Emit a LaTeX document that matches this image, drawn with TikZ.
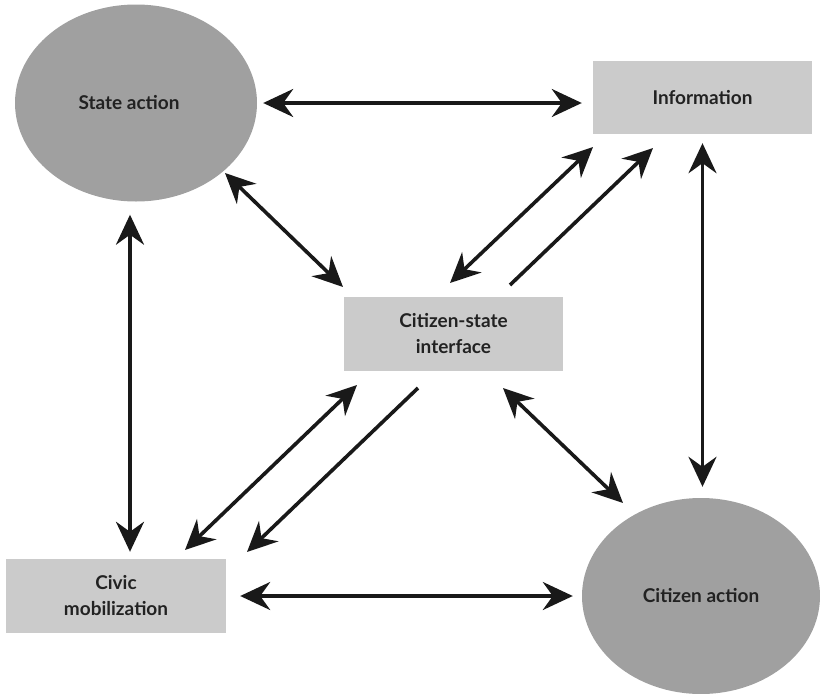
\documentclass[tikz,border=0pt]{standalone}
\usepackage{fontspec}
\setmainfont{Lato}
\usetikzlibrary{shapes.geometric,arrows.meta}
\definecolor{ovalgray}{HTML}{A0A0A0}
\definecolor{boxgray}{HTML}{CBCBCB}
\definecolor{txt}{HTML}{222222}
\tikzset{
  oval/.style={ellipse,fill=ovalgray,draw=none,inner sep=0pt,text=txt,font=\bfseries\fontsize{19}{26}\selectfont},
  box/.style={rectangle,fill=boxgray,draw=none,inner sep=0pt,align=center,text=txt,font=\bfseries\fontsize{19}{26}\selectfont},
  link/.style={line width=3.6pt,color=black!90},
  headtip/.tip={Stealth[length=30pt,width=28pt,inset=10pt]},
  dbl/.style={link,headtip-headtip},
  sgl/.style={link,-headtip},
}
\begin{document}
\begin{tikzpicture}[x=1pt,y=-1pt]
\useasboundingbox (0,0) rectangle (820,694);
\node[oval,minimum width=242pt,minimum height=197pt] (sa) at (136,103) {\hspace*{-14pt}State action};
\node[box,minimum width=219pt,minimum height=73pt] (info) at (702.5,97.5) {Information};
\node[box,minimum width=219pt,minimum height=74pt] (csi) at (453.5,334) {Citizen-state\\interface};
\node[box,minimum width=220pt,minimum height=74pt] (civ) at (116,596) {Civic\\mobilization};
\node[oval,minimum width=238pt,minimum height=196pt] (ca) at (701,596) {Citizen action};
% diagonal end points
\coordinate (sa-d) at (225,173);
\coordinate (csi-sa) at (343,287);
\coordinate (info-d1) at (593,147);
\coordinate (csi-i1) at (450,283);
\coordinate (csi-i2) at (510,285);
\coordinate (info-d2) at (653,148);
\coordinate (csi-c1) at (357,385);
\coordinate (civ-d1) at (185,550);
\coordinate (csi-c2) at (418,388);
\coordinate (civ-d2) at (247,552);
\coordinate (csi-ca) at (503,388);
\coordinate (ca-d) at (623,503);
% straight connectors
\draw[dbl,shorten <=6pt,shorten >=11pt] (sa.east) -- (sa.east -| info.west);
\draw[dbl,shorten <=14pt,shorten >=9pt] (civ.east) -- (ca.west);
\draw[dbl,shorten <=13pt,shorten >=7pt] ([xshift=-6pt]sa.south) -- ([xshift=-6pt]sa.south |- civ.north);
\draw[dbl,shorten <=9pt,shorten >=11pt] (info.south) -- (info.south |- ca.north);
% diagonal connectors
\draw[dbl] (sa-d) -- (csi-sa);
\draw[dbl] (info-d1) -- (csi-i1);
\draw[sgl] (csi-i2) -- (info-d2);
\draw[dbl] (csi-c1) -- (civ-d1);
\draw[sgl] (csi-c2) -- (civ-d2);
\draw[dbl] (csi-ca) -- (ca-d);
\end{tikzpicture}
\end{document}
